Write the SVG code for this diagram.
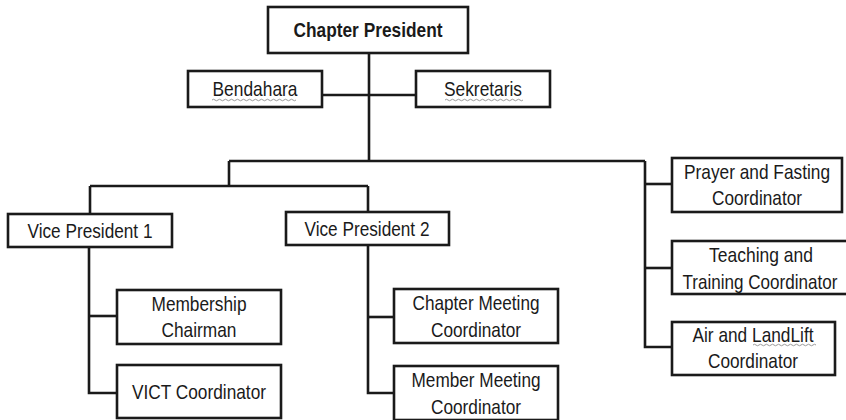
<svg xmlns="http://www.w3.org/2000/svg" width="846" height="420" viewBox="0 0 846 420">
<style>
.box{fill:#fff;stroke:#1a1a1a;stroke-width:2.6}
.t{font-family:"Liberation Sans",Arial,sans-serif;font-size:21px;fill:#1a1a1a;text-anchor:middle}
.b{font-weight:bold}
.c{fill:none;stroke:#1a1a1a;stroke-width:2.6}
.sq{fill:none;stroke:#9a9a9a;stroke-width:1}
</style>
<rect width="846" height="420" fill="#fff"/>
<g id="connectors">
<path class="c" d="M369 53V161"/>
<path class="c" d="M322 95H416"/>
<path class="c" d="M229 161H645"/>
<path class="c" d="M229 161V186"/>
<path class="c" d="M90 186H368"/>
<path class="c" d="M90 186V214"/>
<path class="c" d="M368 186V212"/>
<path class="c" d="M89 247V393H117"/>
<path class="c" d="M89 316H117"/>
<path class="c" d="M368 245V393H394"/>
<path class="c" d="M368 317H394"/>
<path class="c" d="M645 161V347H672"/>
<path class="c" d="M645 184H672"/>
<path class="c" d="M645 268H672"/>
</g>
<g id="chapter-president">
<rect class="box" x="268" y="7" width="200" height="46"/>
<text class="t b" x="368" y="37" textLength="149" lengthAdjust="spacingAndGlyphs">Chapter President</text>
</g>
<g id="bendahara">
<rect class="box" x="188" y="71" width="134" height="36"/>
<text class="t" x="255" y="96" textLength="85" lengthAdjust="spacingAndGlyphs">Bendahara</text>
<path class="sq" d="M212 100q1.5-1.5 3 0t3 0t3 0t3 0t3 0t3 0t3 0t3 0t3 0t3 0t3 0t3 0t3 0t3 0t3 0t3 0t3 0t3 0t3 0t3 0t3 0t3 0t3 0t3 0t3 0t3 0t3 0t3 0"/>
</g>
<g id="sekretaris">
<rect class="box" x="416" y="71" width="134" height="36"/>
<text class="t" x="483" y="96" textLength="78" lengthAdjust="spacingAndGlyphs">Sekretaris</text>
<path class="sq" d="M445 100q1.5-1.5 3 0t3 0t3 0t3 0t3 0t3 0t3 0t3 0t3 0t3 0t3 0t3 0t3 0t3 0t3 0t3 0t3 0t3 0t3 0t3 0t3 0t3 0t3 0t3 0t3 0t3 0"/>
</g>
<g id="vice-president-1">
<rect class="box" x="8" y="214" width="164" height="33"/>
<text class="t" x="90" y="238" textLength="125" lengthAdjust="spacingAndGlyphs">Vice President 1</text>
</g>
<g id="vice-president-2">
<rect class="box" x="286" y="212" width="163" height="33"/>
<text class="t" x="367" y="236" textLength="125" lengthAdjust="spacingAndGlyphs">Vice President 2</text>
</g>
<g id="membership-chairman">
<rect class="box" x="117" y="290" width="164" height="54"/>
<text class="t" x="199" y="311" textLength="95" lengthAdjust="spacingAndGlyphs">Membership</text>
<text class="t" x="199" y="337" textLength="75" lengthAdjust="spacingAndGlyphs">Chairman</text>
</g>
<g id="vict-coordinator">
<rect class="box" x="117" y="365" width="164" height="53"/>
<text class="t" x="199" y="399" textLength="134" lengthAdjust="spacingAndGlyphs">VICT Coordinator</text>
</g>
<g id="chapter-meeting-coordinator">
<rect class="box" x="394" y="289" width="164" height="54"/>
<text class="t" x="476" y="310" textLength="127" lengthAdjust="spacingAndGlyphs">Chapter Meeting</text>
<text class="t" x="476" y="337" textLength="90" lengthAdjust="spacingAndGlyphs">Coordinator</text>
</g>
<g id="member-meeting-coordinator">
<rect class="box" x="394" y="366" width="164" height="54"/>
<text class="t" x="476" y="387" textLength="129" lengthAdjust="spacingAndGlyphs">Member Meeting</text>
<text class="t" x="476" y="414" textLength="90" lengthAdjust="spacingAndGlyphs">Coordinator</text>
</g>
<g id="prayer-fasting-coordinator">
<rect class="box" x="672" y="158" width="170" height="54"/>
<text class="t" x="757" y="179" textLength="146" lengthAdjust="spacingAndGlyphs">Prayer and Fasting</text>
<text class="t" x="757" y="205" textLength="90" lengthAdjust="spacingAndGlyphs">Coordinator</text>
</g>
<g id="teaching-training-coordinator">
<rect class="box" x="672" y="241" width="176" height="53"/>
<text class="t" x="761" y="262" textLength="104" lengthAdjust="spacingAndGlyphs">Teaching and</text>
<text class="t" x="760" y="289" textLength="155" lengthAdjust="spacingAndGlyphs">Training Coordinator</text>
</g>
<g id="air-landlift-coordinator">
<rect class="box" x="672" y="322" width="163" height="53"/>
<text class="t" x="753" y="342" textLength="121" lengthAdjust="spacingAndGlyphs">Air and LandLift</text>
<path class="sq" d="M753 345q1.5-1.5 3 0t3 0t3 0t3 0t3 0t3 0t3 0t3 0t3 0t3 0t3 0t3 0t3 0t3 0t3 0t3 0t3 0t3 0t3 0t3 0t3 0"/>
<text class="t" x="753" y="368" textLength="90" lengthAdjust="spacingAndGlyphs">Coordinator</text>
</g>
</svg>
